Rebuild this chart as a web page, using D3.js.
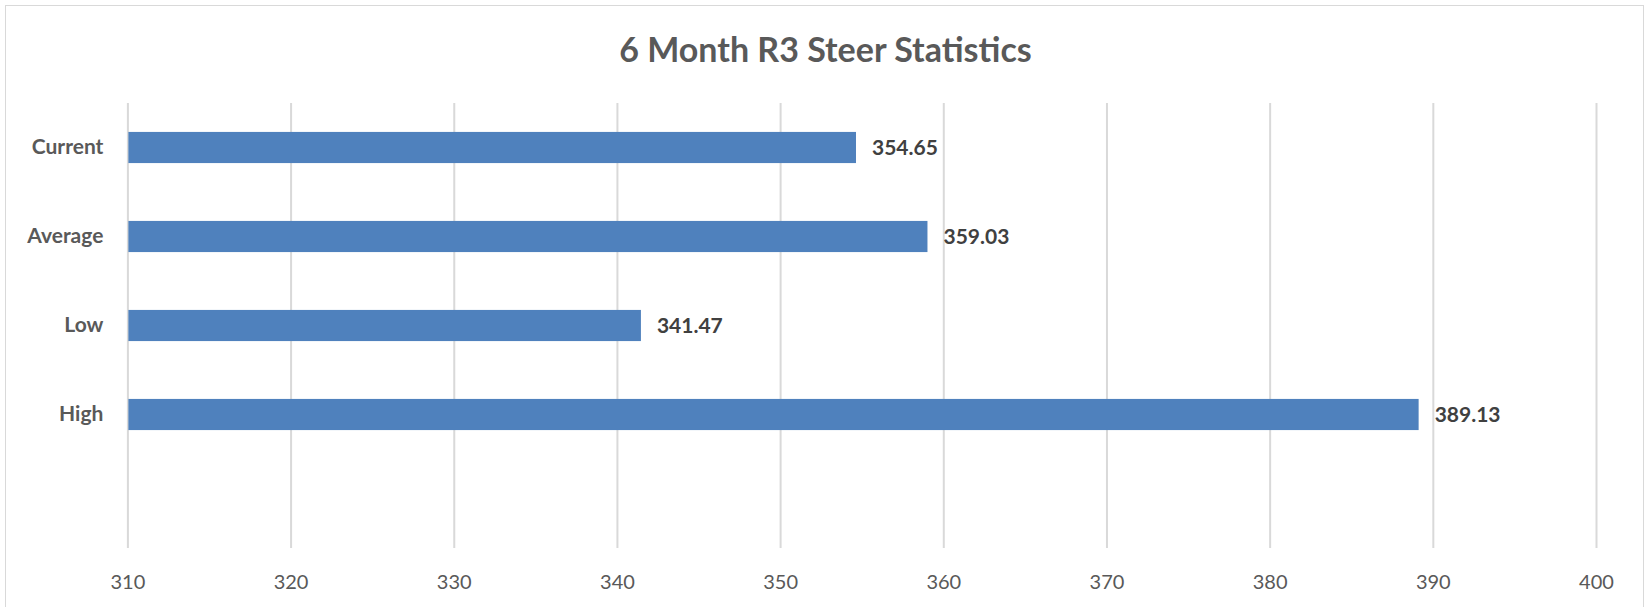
<!DOCTYPE html>
<html><head><meta charset="utf-8">
<script src="https://cdn.jsdelivr.net/npm/d3@7"></script>
<style>html,body{margin:0;padding:0;background:#fff;}svg{display:block;font-family:Lato,"Open Sans",sans-serif;}</style>
</head><body>
<svg id="chart" width="1651" height="607"></svg>
<script>
const title = "6 Month R3 Steer Statistics";
const categories = ["Current", "Average", "Low", "High", ""];
const values = [354.65, 359.03, 341.47, 389.13, null];
const xTicks = [310, 320, 330, 340, 350, 360, 370, 380, 390, 400];

const svg = d3.select("#chart");
const W = 1651, H = 607;
const m = {left: 127.4, right: 1596, top: 103, bottom: 548};

svg.append("rect").attr("x", 5.5).attr("y", 5.5).attr("width", 1638).attr("height", 620)
  .attr("fill", "#fff").attr("stroke", "#d9d9d9").attr("stroke-width", 1);

const x = d3.scaleLinear().domain([310, 400]).range([m.left, m.right]);
const y = d3.scaleBand().domain(categories).range([m.top, m.bottom]).paddingInner(0.65).paddingOuter(0.325);

svg.append("text").attr("x", W / 2).attr("y", 61.5).attr("text-anchor", "middle")
  .attr("font-size", 34).attr("font-weight", "bold").attr("fill", "#595959").text(title);

const xAxis = svg.append("g").attr("transform", `translate(0,${m.bottom})`)
  .call(d3.axisBottom(x).tickValues(xTicks).tickSize(-(m.bottom - m.top)).tickPadding(27));
xAxis.select(".domain").remove();
xAxis.selectAll(".tick line").attr("stroke", "#d9d9d9").attr("stroke-width", 2);
xAxis.selectAll(".tick text").attr("font-size", 20).attr("fill", "#595959").attr("font-family", "Lato, sans-serif");

const yAxis = svg.append("g").attr("transform", `translate(${m.left},0)`)
  .call(d3.axisLeft(y).tickSize(0).tickPadding(24));
yAxis.select(".domain").remove();
yAxis.selectAll(".tick text").attr("font-size", 21).attr("font-weight", "bold").attr("fill", "#595959").attr("font-family", "Lato, sans-serif");

const data = categories.map((c, i) => ({c, v: values[i]})).filter(d => d.v != null);

svg.append("g").selectAll("rect").data(data).join("rect")
  .attr("x", x(310) + 1).attr("y", d => y(d.c))
  .attr("width", d => x(d.v) - x(310) - 1).attr("height", y.bandwidth())
  .attr("fill", "#4f81bd");

svg.append("g").selectAll("text").data(data).join("text")
  .attr("x", d => x(d.v) + 16).attr("y", d => y(d.c) + y.bandwidth() / 2)
  .attr("dy", "0.35em").attr("font-size", 21).attr("font-weight", "bold").attr("fill", "#404040")
  .text(d => d.v.toFixed(2));
</script>
</body></html>
